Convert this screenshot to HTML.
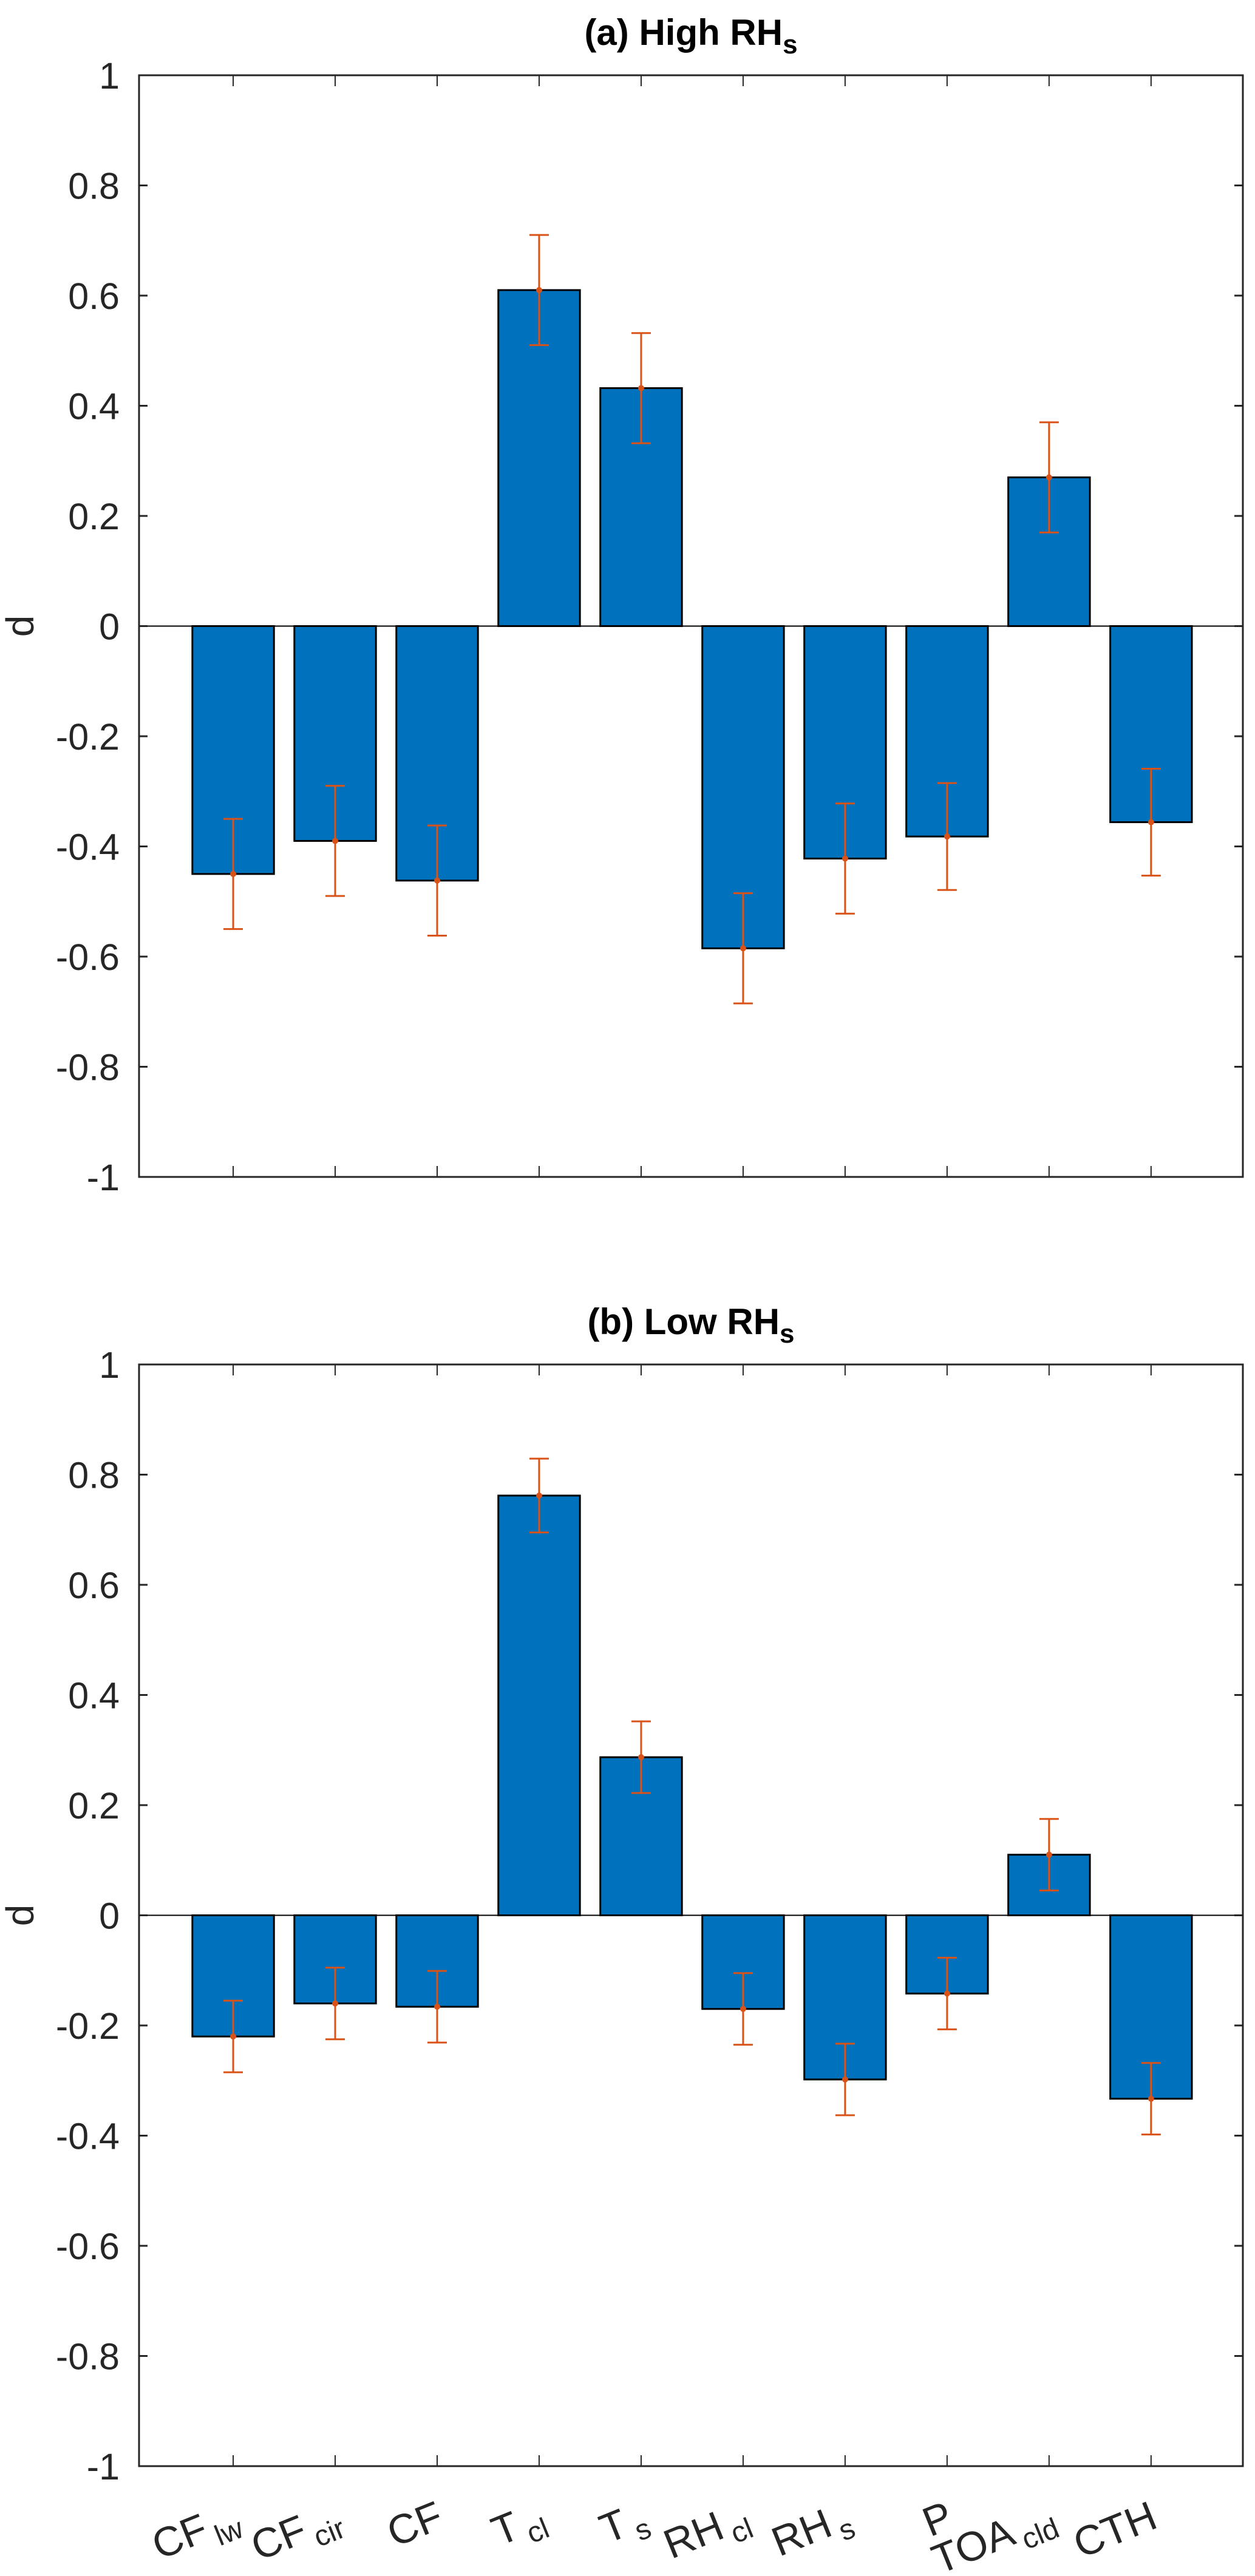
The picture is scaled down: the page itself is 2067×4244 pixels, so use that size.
<!DOCTYPE html>
<html><head><meta charset="utf-8"><style>html,body{margin:0;padding:0;background:#fff}svg{display:block}</style></head>
<body>
<svg id="chart" width="2067" height="4244" viewBox="0 0 2067 4244" xmlns="http://www.w3.org/2000/svg" font-family="Liberation Sans, Arial, sans-serif"></svg>
<script>
const categories = ["CF|lw","CF|cir","CF|","T|cl","T|s","RH|cl","RH|s","P|","TOA|cld","CTH|"];
const valuesA = [-0.45,-0.39,-0.462,0.61,0.432,-0.585,-0.422,-0.382,0.27,-0.356];
const errorsA = [0.1,0.1,0.1,0.1,0.1,0.1,0.1,0.097,0.1,0.097];
const valuesB = [-0.22,-0.16,-0.166,0.762,0.287,-0.17,-0.298,-0.142,0.11,-0.333];
const errorsB = [0.065,0.065,0.065,0.067,0.065,0.065,0.065,0.065,0.065,0.065];
const yTicks = [1,0.8,0.6,0.4,0.2,0,-0.2,-0.4,-0.6,-0.8,-1];
const yTickLabels = ["1","0.8","0.6","0.4","0.2","0","-0.2","-0.4","-0.6","-0.8","-1"];

const NS="http://www.w3.org/2000/svg";
const svg=document.getElementById('chart');
function mk(tag,attrs,parent){const e=document.createElementNS(NS,tag);for(const k in attrs)e.setAttribute(k,attrs[k]);(parent||svg).appendChild(e);return e;}
const L=229,R=2047,XMIN=0.077,XMAX=10.9;
function xs(v){return L+(v-XMIN)/(XMAX-XMIN)*(R-L);}

function panel(top,bottom,vals,errs,title,showX,pid){
  const g=mk('g',{});
  
  
  const ys=v=>top+(1-v)/2*(bottom-top);
  const bw=0.8*(xs(2)-xs(1));
  vals.forEach((v,i)=>{
    const x=xs(i+1);
    const r=mk('rect',{x:x-bw/2,y:Math.min(ys(v),ys(0)),width:bw,height:Math.abs(ys(v)-ys(0)),fill:'#0072BD',stroke:'#000','stroke-width':3},g);
    
    
  });
  mk('line',{x1:L,x2:R,y1:ys(0),y2:ys(0),stroke:'#000','stroke-width':2},g);
  vals.forEach((v,i)=>{
    const x=xs(i+1),e=errs[i];
    const eg=mk('g',{stroke:'#D95319','stroke-width':3},g);
    
    
    mk('line',{x1:x,x2:x,y1:ys(v+e),y2:ys(v-e)},eg);
    mk('line',{x1:x-16,x2:x+16,y1:ys(v+e),y2:ys(v+e)},eg);
    mk('line',{x1:x-16,x2:x+16,y1:ys(v-e),y2:ys(v-e)},eg);
    mk('circle',{cx:x,cy:ys(v),r:5,fill:'#D95319',stroke:'none'},eg);
  });
  const box=mk('rect',{x:L,y:top,width:R-L,height:bottom-top,fill:'none',stroke:'#262626','stroke-width':3},g);
  
  
  yTicks.forEach((t,i)=>{
    const y=ys(t);
    mk('line',{x1:L,x2:L+14,y1:y,y2:y,stroke:'#262626','stroke-width':3},g);
    mk('line',{x1:R,x2:R-14,y1:y,y2:y,stroke:'#262626','stroke-width':3},g);
    const tx=mk('text',{x:197,y:y+22,'text-anchor':'end','font-size':61,fill:'#262626'},g);
    tx.textContent=yTickLabels[i];
    
    
  });
  categories.forEach((c,i)=>{
    const x=xs(i+1);
    mk('line',{x1:x,x2:x,y1:bottom,y2:bottom-18,stroke:'#262626','stroke-width':2},g);
    mk('line',{x1:x,x2:x,y1:top,y2:top+18,stroke:'#262626','stroke-width':2},g);
    if(showX){
      const [m,s]=c.split('|');
      const t=mk('text',{x:x+14,y:bottom+100,'text-anchor':'end','font-size':68,fill:'#262626',transform:`rotate(-22 ${x+14} ${bottom+100})`},g);
      
      
      const a=mk('tspan',{},t);a.textContent=m;
      if(s){const b=mk('tspan',{'font-size':48,dx:10,dy:16},t);b.textContent=s;}
    }
  });
  const yl=mk('text',{x:55,y:(top+bottom)/2,'text-anchor':'middle','font-size':64,fill:'#262626',transform:`rotate(-90 55 ${(top+bottom)/2})`},g);
  yl.textContent='d';
  
  
  const tt=mk('text',{x:(L+R)/2,y:top-50,'text-anchor':'middle','font-size':60,'font-weight':'bold',fill:'#000'},g);
  
  
  const t1=mk('tspan',{},tt);t1.textContent=title;
  const t2=mk('tspan',{'font-size':44,dy:14},tt);t2.textContent='s';
}
panel(124,1939,valuesA,errorsA,'(a) High RH',false,'panel-a-high-rhs');
panel(2248,4063,valuesB,errorsB,'(b) Low RH',true,'panel-b-low-rhs');
</script>
</body></html>
